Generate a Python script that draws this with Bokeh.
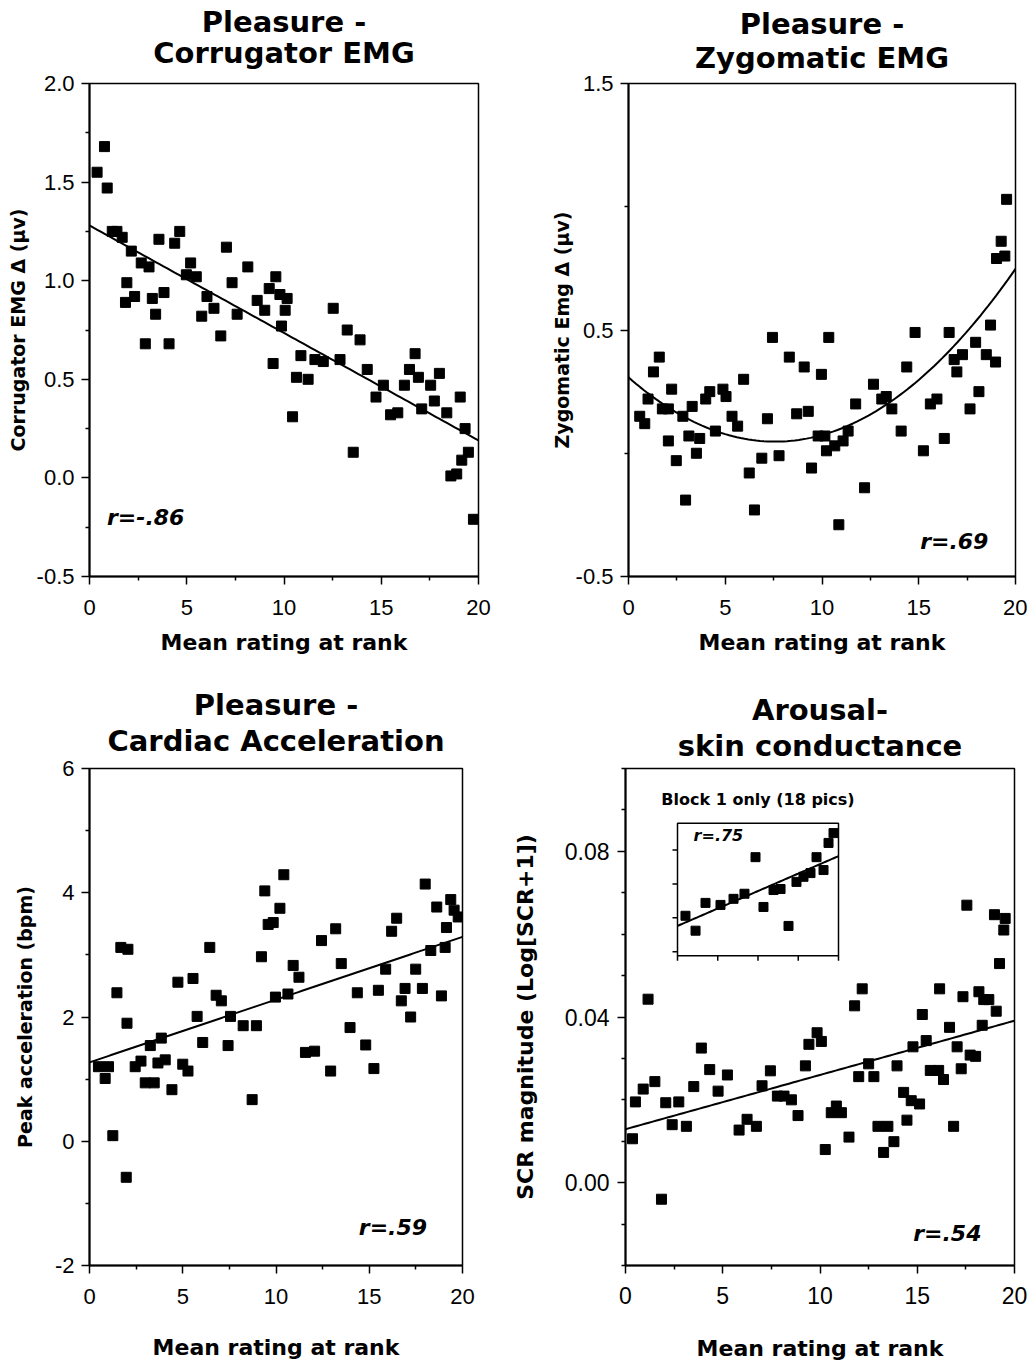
import numpy as np
from bokeh.plotting import figure
from bokeh.models import FixedTicker, PrintfTickFormatter, Title, Range1d
from bokeh.layouts import column, row
from bokeh.embed import file_html
from bokeh.resources import INLINE
from bokeh.core.properties import value

# ---------------- data ----------------
X_TICKS = [0, 5, 10, 15, 20]
X_MINOR = [2.5, 7.5, 12.5, 17.5]

# Pleasure - Corrugator EMG
corr_x = [0.39, 0.77, 0.91, 1.17, 1.41, 1.68, 1.85, 1.92, 2.15, 2.32,
          2.66, 2.87, 3.06, 3.23, 3.40, 3.57, 3.83, 4.09, 4.38, 4.64,
          4.98, 5.20, 5.49, 5.77, 6.04, 6.40, 6.75, 7.04, 7.33, 7.59,
          8.14, 8.62, 9.01, 9.24, 9.44, 9.58, 9.79, 9.87, 10.06, 10.16,
          10.44, 10.64, 10.87, 11.24, 11.59, 12.02, 12.53, 12.88, 13.25, 13.56,
          13.91, 14.28, 14.73, 15.11, 15.48, 15.85, 16.19, 16.45, 16.74, 16.91,
          17.08, 17.54, 17.73, 17.99, 18.37, 18.58, 18.88, 19.06, 19.14, 19.31,
          19.48, 19.74]
corr_y = [1.55, 1.68, 1.47, 1.25, 1.25, 1.22, 0.89, 0.99, 1.15, 0.92,
          1.09, 0.68, 1.07, 0.91, 0.83, 1.21, 0.94, 0.68, 1.19, 1.25,
          1.03, 1.09, 1.02, 0.82, 0.92, 0.86, 0.72, 1.17, 0.99, 0.83,
          1.07, 0.90, 0.85, 0.96, 0.58, 1.02, 0.93, 0.77, 0.85, 0.91,
          0.31, 0.51, 0.62, 0.50, 0.60, 0.59, 0.86, 0.60, 0.75, 0.13,
          0.70, 0.55, 0.41, 0.47, 0.32, 0.33, 0.47, 0.55, 0.63, 0.51,
          0.35, 0.47, 0.39, 0.53, 0.33, 0.01, 0.02, 0.41, 0.09, 0.25,
          0.13, -0.21]
corr_fit = [-0.0545, 1.28]          # slope, intercept

# Pleasure - Zygomatic EMG
zyg_x = [0.58, 0.84, 1.01, 1.29, 1.59, 1.75, 2.06, 2.06, 2.23, 2.47,
         2.81, 2.95, 3.12, 3.29, 3.51, 3.68, 3.99, 4.20, 4.49, 4.88,
         5.04, 5.35, 5.64, 5.95, 6.24, 6.51, 6.89, 7.18, 7.44, 7.78,
         8.31, 8.69, 9.08, 9.29, 9.46, 9.80, 9.97, 10.15, 10.23, 10.35,
         10.66, 10.87, 11.09, 11.35, 11.74, 12.20, 12.66, 13.09, 13.32, 13.61,
         14.09, 14.38, 14.81, 15.24, 15.60, 15.94, 16.32, 16.57, 16.83, 16.97,
         17.26, 17.65, 17.94, 18.11, 18.49, 18.71, 18.97, 19.02, 19.26, 19.45,
         19.54]
zyg_y = [0.15, 0.12, 0.22, 0.33, 0.39, 0.18, 0.18, 0.05, 0.26, -0.03,
         0.15, -0.19, 0.07, 0.19, 0.00, 0.06, 0.22, 0.25, 0.09, 0.26,
         0.23, 0.15, 0.11, 0.30, -0.08, -0.23, -0.02, 0.14, 0.47, -0.01,
         0.39, 0.16, 0.35, 0.17, -0.06, 0.07, 0.32, 0.07, 0.01, 0.47,
         0.03, -0.29, 0.05, 0.09, 0.20, -0.14, 0.28, 0.22, 0.23, 0.18,
         0.09, 0.35, 0.49, 0.01, 0.20, 0.22, 0.06, 0.49, 0.38, 0.33,
         0.40, 0.18, 0.45, 0.25, 0.40, 0.52, 0.37, 0.79, 0.86, 0.80,
         1.03]
zyg_fit = [0.00454, -0.0688, 0.308]  # quadratic coefficients

# Pleasure - Cardiac Acceleration
card_x = [0.48, 0.84, 1.02, 1.25, 1.47, 1.68, 1.97, 2.01, 2.06, 2.45,
          2.76, 2.99, 3.26, 3.47, 3.67, 3.85, 4.06, 4.42, 4.74, 5.00,
          5.28, 5.55, 5.77, 6.07, 6.45, 6.79, 7.07, 7.43, 7.56, 8.24,
          8.72, 8.95, 9.22, 9.40, 9.58, 9.85, 9.97, 10.21, 10.42, 10.64,
          10.92, 11.23, 11.58, 12.07, 12.44, 12.93, 13.20, 13.50, 13.97, 14.36,
          14.81, 15.25, 15.49, 15.88, 16.20, 16.47, 16.72, 16.92, 17.22, 17.49,
          17.85, 18.00, 18.30, 18.62, 18.87, 19.07, 19.14, 19.37, 19.55, 19.77]
card_y = [1.20, 1.01, 1.20, 0.09, 2.39, 3.12, -0.58, 1.90, 3.09, 1.20,
          1.29, 0.94, 1.54, 0.94, 1.26, 1.66, 1.31, 0.83, 2.56, 1.24,
          1.13, 2.62, 2.01, 1.59, 3.12, 2.35, 2.26, 1.54, 2.01, 1.86,
          0.67, 1.86, 2.97, 4.03, 3.49, 3.52, 2.32, 3.75, 4.29, 2.37,
          2.83, 2.64, 1.43, 1.45, 3.23, 1.13, 3.42, 2.86, 1.83, 2.39,
          1.55, 1.17, 2.43, 2.77, 3.38, 3.59, 2.26, 2.46, 2.00, 2.77,
          2.46, 4.14, 3.07, 3.77, 2.34, 3.12, 3.44, 3.89, 3.72, 3.61]
card_fit = [0.101, 1.27]

# Arousal - skin conductance
scr_x = [0.36, 0.51, 0.91, 1.16, 1.51, 1.85, 2.07, 2.40, 2.74, 3.13,
         3.51, 3.90, 4.33, 4.76, 5.24, 5.84, 6.25, 6.73, 7.02, 7.45,
         7.81, 8.15, 8.53, 8.87, 9.25, 9.43, 9.85, 10.07, 10.27, 10.58,
         10.84, 11.10, 11.49, 11.78, 11.99, 12.17, 12.50, 12.77, 12.98, 13.27,
         13.49, 13.80, 13.96, 14.30, 14.47, 14.69, 14.78, 15.12, 15.26, 15.46,
         15.67, 16.10, 16.15, 16.35, 16.66, 16.87, 17.05, 17.26, 17.35, 17.55,
         17.72, 18.00, 18.17, 18.34, 18.42, 18.68, 18.97, 19.06, 19.23, 19.45,
         19.52]
scr_y = [0.0106, 0.0195, 0.0226, 0.0443, 0.0244, -0.0040, 0.0193, 0.0140, 0.0195, 0.0136,
         0.0232, 0.0325, 0.0273, 0.0221, 0.0260, 0.0127, 0.0153, 0.0136, 0.0234, 0.0270,
         0.0209, 0.0209, 0.0200, 0.0162, 0.0282, 0.0334, 0.0362, 0.0341, 0.0080, 0.0169,
         0.0185, 0.0169, 0.0110, 0.0427, 0.0256, 0.0468, 0.0287, 0.0256, 0.0136, 0.0073,
         0.0136, 0.0099, 0.0282, 0.0218, 0.0151, 0.0198, 0.0328, 0.0190, 0.0406, 0.0343,
         0.0271, 0.0271, 0.0468, 0.0249, 0.0375, 0.0136, 0.0328, 0.0275, 0.0449, 0.0670,
         0.0308, 0.0305, 0.0461, 0.0380, 0.0442, 0.0442, 0.0647, 0.0414, 0.0529, 0.0610,
         0.0638]
scr_fit = [0.00131, 0.0129]

# Inset: Block 1 only (18 pics), unlabeled axes (tick units)
blk_x = [0.99, 2.24, 3.48, 5.34, 6.96, 8.32, 9.69, 10.68, 11.93, 12.80,
         13.79, 14.78, 15.65, 16.52, 17.27, 18.14, 18.76, 19.38]
blk_y = [2.06, 1.62, 2.44, 2.38, 2.56, 2.71, 3.79, 2.32, 2.82, 2.85,
         1.76, 3.06, 3.21, 3.32, 3.79, 3.41, 4.21, 4.50]
blk_fit = [0.103, 1.76]
BLK_X_TICKS = [0, 5, 10, 15, 20]
BLK_Y_TICKS = [1, 2, 3, 4]

# ---------------- styling helpers ----------------
BOLD = "DejaVu Sans"
REG = "Liberation Sans"


def make_fig(width, height, xr, yr, mb):
    p = figure(width=width, height=height, x_range=Range1d(*xr), y_range=Range1d(*yr),
               output_backend="svg", toolbar_location=None, title=None,
               min_border_left=mb[0], min_border_right=mb[1],
               min_border_top=mb[2], min_border_bottom=mb[3])
    p.grid.visible = False
    p.outline_line_color = "black"
    p.outline_line_width = 1.5
    p.background_fill_color = "white"
    p.border_fill_color = "white"
    return p


def style(p, yticks, yminor, yfmt, ylabel, ylabel_size, ylab_standoff, xlab_standoff,
          xtick_standoff=15, ytick_standoff=7, tick_size="22px"):
    xa = p.xaxis[0]
    ya = p.yaxis[0]
    xa.ticker = FixedTicker(ticks=X_TICKS, minor_ticks=X_MINOR)
    xa.formatter = PrintfTickFormatter(format="%d")
    ya.ticker = FixedTicker(ticks=yticks, minor_ticks=yminor)
    ya.formatter = PrintfTickFormatter(format=yfmt)
    for ax in (xa, ya):
        ax.axis_line_color = "black"
        ax.axis_line_width = 2
        ax.major_tick_line_color = "black"
        ax.major_tick_line_width = 1.5
        ax.minor_tick_line_color = "black"
        ax.minor_tick_line_width = 1.5
        ax.major_tick_out = 8
        ax.major_tick_in = 0
        ax.minor_tick_out = 4
        ax.minor_tick_in = 0
        ax.major_label_text_font = REG
        ax.major_label_text_font_size = tick_size
        ax.major_label_text_color = "black"
        ax.axis_label_text_font = BOLD
        ax.axis_label_text_font_style = "bold"
        ax.axis_label_text_color = "black"
    xa.axis_label = "Mean rating at rank"
    xa.axis_label_text_font_size = "22px"
    xa.major_label_standoff = xtick_standoff
    xa.axis_label_standoff = xlab_standoff
    ya.axis_label = ylabel
    ya.axis_label_text_font_size = ylabel_size
    ya.major_label_standoff = ytick_standoff
    ya.axis_label_standoff = ylab_standoff


def add_titles(p, line1, line2, standoff2, standoff1):
    # first added sits closest to the frame
    p.add_layout(Title(text=line2, align="center", text_font=BOLD, text_font_style="bold",
                       text_font_size="29px", text_color="black", standoff=standoff2), "above")
    p.add_layout(Title(text=line1, align="center", text_font=BOLD, text_font_style="bold",
                       text_font_size="29px", text_color="black", standoff=standoff1), "above")


def r_label(p, x, y, txt, align, size="22px", **kw):
    p.text(x=[x], y=[y], text=[txt], text_font=value(BOLD), text_font_style="bold italic",
           text_font_size=size, text_align=align, text_baseline="middle", text_color="black", **kw)


FIT_X = np.linspace(0, 20, 101)

# page layout: top row 0..662, bottom row 662..1364; left column 0..507, right 507..1027
TOP_H, BOT_H, LEFT_W, RIGHT_W = 662, 702, 507, 520

# ---------------- panel 1 ----------------
F1 = dict(left=89, right=478, top=83, bottom=576)
p1 = make_fig(LEFT_W, TOP_H, (0, 20), (-0.5, 2.0),
              (F1["left"], LEFT_W - F1["right"], F1["top"], TOP_H - F1["bottom"]))
style(p1, [-0.5, 0, 0.5, 1.0, 1.5, 2.0], [-0.25, 0.25, 0.75, 1.25, 1.75], "%.1f",
      "Corrugator EMG \u0394 (\u00b5v)", "19px", 5, 12)
add_titles(p1, "Pleasure -", "Corrugator EMG", 27, -37)
p1.line(FIT_X, np.polyval(corr_fit, FIT_X), line_color="black", line_width=2)
p1.scatter(corr_x, corr_y, marker="square", size=10, color="black")
r_label(p1, 0.9, -0.2, "r=-.86", "left")

# ---------------- panel 2 ----------------
F2 = dict(left=628, right=1015, top=81, bottom=577)
p2 = make_fig(RIGHT_W, TOP_H, (0, 20), (-0.5, 1.5),
              (F2["left"] - LEFT_W, LEFT_W + RIGHT_W - F2["right"], F2["top"], TOP_H - F2["bottom"]))
style(p2, [-0.5, 0.5, 1.5], [0.0, 1.0], "%.1f",
      "Zygomatic Emg \u0394 (\u00b5v)", "19px", 0, 12)
add_titles(p2, "Pleasure -", "Zygomatic EMG", 17, -21)
p2.line(FIT_X, np.polyval(zyg_fit, FIT_X), line_color="black", line_width=2)
p2.scatter(zyg_x, zyg_y, marker="square", size=10, color="black")
r_label(p2, 18.6, -0.36, "r=.69", "right")

# ---------------- panel 3 ----------------
F3 = dict(left=89, right=462, top=768, bottom=1272)
p3 = make_fig(LEFT_W, BOT_H, (0, 20), (-2, 6),
              (F3["left"], LEFT_W - F3["right"], F3["top"] - TOP_H, TOP_H + BOT_H - F3["bottom"]))
style(p3, [-2, 0, 2, 4, 6], [-1, 1, 3, 5], "%d",
      "Peak acceleration (bpm)", "19px", 16, 28)
add_titles(p3, "Pleasure -", "Cardiac Acceleration", 21, -21)
p3.line(FIT_X, np.polyval(card_fit, FIT_X), line_color="black", line_width=2)
p3.scatter(card_x, card_y, marker="square", size=10, color="black")
r_label(p3, 18.1, -1.39, "r=.59", "right")

# ---------------- panel 4 ----------------
F4 = dict(left=625, right=1014, top=766, bottom=1265)      # frame in page px
INSET = dict(left=677, right=838, top=821, bottom=954)       # inset box in page px
INSET_XR = (0, 20)
INSET_YR = (0.88, 4.79)

p4 = make_fig(RIGHT_W, BOT_H, (0, 20), (-0.02, 0.10),
              (F4["left"] - LEFT_W, LEFT_W + RIGHT_W - F4["right"],
               F4["top"] - TOP_H, TOP_H + BOT_H - F4["bottom"]))
style(p4, [0.0, 0.04, 0.08],
      [-0.02, -0.01, 0.01, 0.02, 0.03, 0.05, 0.06, 0.07, 0.09, 0.10], "%.2f",
      "SCR magnitude (Log[SCR+1])", "22px", 24, 29, xtick_standoff=13,
      ytick_standoff=8, tick_size="23px")
add_titles(p4, "Arousal-", "skin conductance", 11, -11)
p4.line(FIT_X, np.polyval(scr_fit, FIT_X), line_color="black", line_width=2)
p4.scatter(scr_x, scr_y, marker="square", size=10, color="black")
r_label(p4, 18.3, -0.0123, "r=.54", "right")

# inset via extra ranges mapping the inset box inside the frame
sx = (INSET["right"] - INSET["left"]) / (INSET_XR[1] - INSET_XR[0])   # px per inset x unit
sy = (INSET["bottom"] - INSET["top"]) / (INSET_YR[1] - INSET_YR[0])   # px per inset y unit
ix0 = INSET_XR[0] - (INSET["left"] - F4["left"]) / sx
ix1 = INSET_XR[1] + (F4["right"] - INSET["right"]) / sx
iy0 = INSET_YR[0] - (F4["bottom"] - INSET["bottom"]) / sy
iy1 = INSET_YR[1] + (INSET["top"] - F4["top"]) / sy
p4.extra_x_ranges = {"inset": Range1d(ix0, ix1)}
p4.extra_y_ranges = {"inset": Range1d(iy0, iy1)}
kw = dict(x_range_name="inset", y_range_name="inset")

p4.quad(left=[INSET_XR[0]], right=[INSET_XR[1]], bottom=[INSET_YR[0]], top=[INSET_YR[1]],
        fill_color="white", line_color="black", line_width=1.5, **kw)
tick_len_px = 5
p4.segment(x0=BLK_X_TICKS, x1=BLK_X_TICKS,
           y0=[INSET_YR[0]] * len(BLK_X_TICKS),
           y1=[INSET_YR[0] - tick_len_px / sy] * len(BLK_X_TICKS),
           line_color="black", line_width=1.5, **kw)
p4.segment(x0=[INSET_XR[0]] * len(BLK_Y_TICKS),
           x1=[INSET_XR[0] - tick_len_px / sx] * len(BLK_Y_TICKS),
           y0=BLK_Y_TICKS, y1=BLK_Y_TICKS,
           line_color="black", line_width=1.5, **kw)
p4.line(FIT_X, np.polyval(blk_fit, FIT_X), line_color="black", line_width=2, **kw)
p4.scatter(blk_x, blk_y, marker="square", size=9, color="black", **kw)
r_label(p4, 2.0, 4.44, "r=.75", "left", size="16px", **kw)
p4.text(x=[10], y=[5.5], text=["Block 1 only (18 pics)"], text_font=value(BOLD),
        text_font_style="bold", text_font_size="16px", text_align="center",
        text_baseline="middle", text_color="black", **kw)

layout = column(row(p1, p2), row(p3, p4))
open("out.html", "w").write(file_html(layout, INLINE))
